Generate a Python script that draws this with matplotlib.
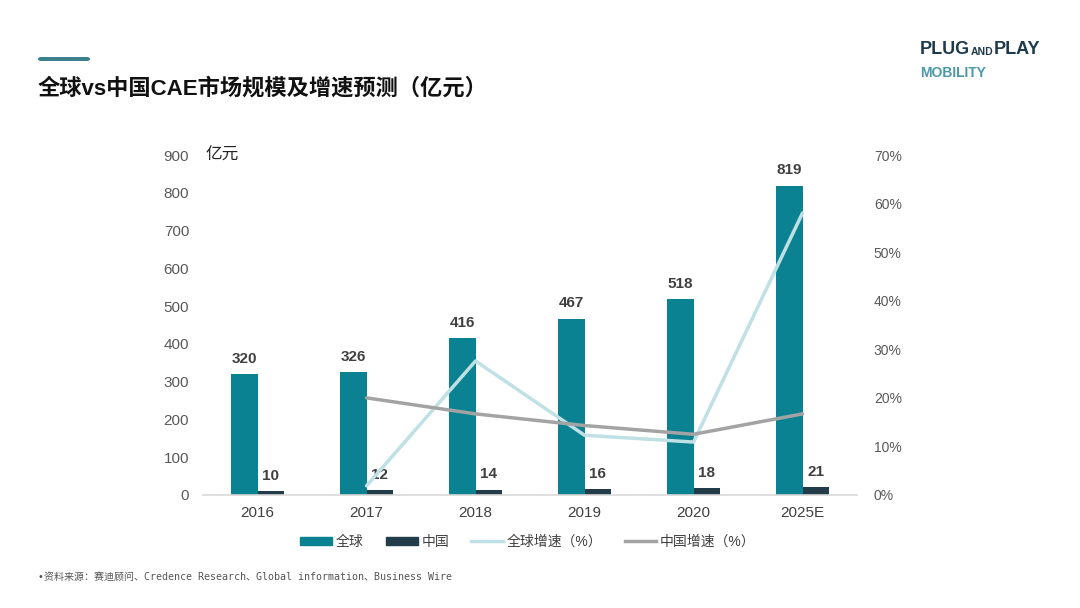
import matplotlib
matplotlib.use("Agg")
import matplotlib.pyplot as plt
from matplotlib.patches import Patch, FancyBboxPatch
from matplotlib.lines import Line2D

plt.rcParams['font.family'] = ['Liberation Sans', 'Noto Sans CJK SC', 'DejaVu Sans']

years = ["2016", "2017", "2018", "2019", "2020", "2025E"]
global_size = [320, 326, 416, 467, 518, 819]
china_size = [10, 12, 14, 16, 18, 21]
global_growth = [None, 1.9, 27.6, 12.3, 10.9, 58.1]
china_growth = [None, 20.0, 16.7, 14.3, 12.5, 16.7]

c_global = "#0b8291"
c_china = "#233c4a"
c_ggrowth = "#bfe0e4"
c_cgrowth = "#a3a3a3"
tick_c = "#595959"
lab_c = "#404040"

fig = plt.figure(figsize=(10.8, 6.08), dpi=100)
ax = fig.add_axes([0.188, 0.1859, 0.6056, 0.559])
ax2 = ax.twinx()

x = list(range(len(years)))
w = 0.245
ax.bar([i - w / 2 for i in x], global_size, width=w, color=c_global, zorder=2)
ax.bar([i + w / 2 for i in x], china_size, width=w, color=c_china, zorder=2)

for i, v in enumerate(global_size):
    ax.text(i - w / 2, v + 22, str(v), ha='center', va='bottom', fontsize=11,
            fontweight='bold', color=lab_c)
for i, v in enumerate(china_size):
    ax.text(i + w / 2, v + 22, str(v), ha='center', va='bottom', fontsize=11,
            fontweight='bold', color=lab_c)

gx = [i for i, v in enumerate(global_growth) if v is not None]
gy = [v for v in global_growth if v is not None]
cx = [i for i, v in enumerate(china_growth) if v is not None]
cy = [v for v in china_growth if v is not None]
ax2.plot(gx, gy, color=c_ggrowth, lw=2.5, zorder=3, solid_capstyle='round')
ax2.plot(cx, cy, color=c_cgrowth, lw=2.5, zorder=3, solid_capstyle='round')

ax.set_xlim(-0.5, len(years) - 0.5)
ax.set_ylim(0, 900)
ax.set_yticks(range(0, 901, 100))
ax2.set_ylim(0, 70)
ax2.set_yticks(range(0, 71, 10))
ax2.set_yticklabels([f"{t}%" for t in range(0, 71, 10)])

ax.set_xticks(x)
ax.set_xticklabels(years)
for a in (ax, ax2):
    for s in a.spines.values():
        s.set_visible(False)
ax.spines['bottom'].set_visible(True)
ax.spines['bottom'].set_color('#d9d9d9')
ax.spines['bottom'].set_linewidth(1.2)

ax.tick_params(axis='y', length=0, pad=10, labelsize=11, labelcolor=tick_c)
ax.tick_params(axis='x', length=0, pad=8, labelsize=11, labelcolor=lab_c)
ax2.tick_params(axis='y', length=0, pad=12, labelsize=10, labelcolor=tick_c)

ax.text(0.003, 1.0, "亿元", transform=ax.transAxes, fontsize=12, color='#222222',
        ha='left', va='center', fontweight='medium')

# Title and accent bar
fig.add_artist(FancyBboxPatch((38 / 1080, 1 - 61 / 608), 52 / 1080, 4 / 608,
                              boxstyle="round,pad=0,rounding_size=0.003",
                              transform=fig.transFigure, color="#3c7f8d", lw=0))
fig.text(38 / 1080, 1 - 89 / 608, "全球vs中国CAE市场规模及增速预测（亿元）", fontsize=16,
         fontweight='bold', color='#111111', ha='left', va='center')

# Logo: pieces placed one after another using measured extents
renderer = fig.canvas.get_renderer()
xpos = 920
for txt, fs, dy in [("PLUG", 13, 0), ("AND", 7.5, 2), ("PLAY", 13, 0)]:
    t = fig.text(xpos / 1080, 1 - (50 + dy) / 608, txt, fontsize=fs, fontweight='bold',
                 color="#1f3a4a", ha='left', va='center')
    bb = t.get_window_extent(renderer)
    xpos += bb.width + 0.5
fig.text(920 / 1080, 1 - 73 / 608, "MOBILITY", fontsize=10, fontweight='bold',
         color="#4a98a8", ha='left', va='center')

# Legend
handles = [Patch(color=c_global), Patch(color=c_china),
           Line2D([], [], color=c_ggrowth, lw=2.5), Line2D([], [], color=c_cgrowth, lw=2.5)]
labels = ["全球", "中国", "全球增速（%）", "中国增速（%）"]
fig.legend(handles, labels, loc='center', bbox_to_anchor=(528 / 1080, 1 - 542 / 608), ncol=4,
           frameon=False, fontsize=10, handlelength=2.3, handleheight=0.55,
           columnspacing=1.6, handletextpad=0.25, labelcolor='#404040')

fig.text(38 / 1080, 1 - 577 / 608,
         "•资料来源：赛迪顾问、Credence Research、Global information、Business Wire",
         fontsize=7.2, color='#555555', ha='left', va='center',
         family=['DejaVu Sans Mono', 'Noto Sans CJK SC'])

fig.savefig("out.png", dpi=100, facecolor='white')
